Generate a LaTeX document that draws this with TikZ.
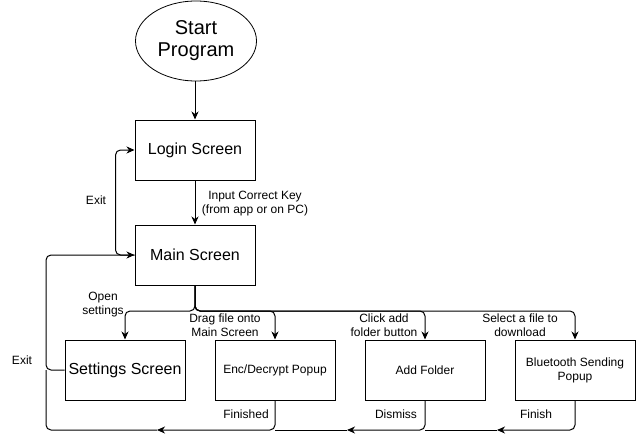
\documentclass[tikz,border=0pt]{standalone}
\usepackage{fontspec}
\setmainfont{Liberation Sans}
\usetikzlibrary{shapes.geometric,arrows.meta}

\begin{document}
\begin{tikzpicture}[x=1pt,y=-1pt,
  box/.style={draw,line width=1pt,minimum width=120pt,minimum height=60pt,inner sep=0pt,align=center},
  big/.style={font=\fontsize{16}{19}\selectfont},
  small/.style={font=\fontsize{12}{14}\selectfont},
  lbl/.style={font=\fontsize{12}{14}\selectfont,align=center,inner sep=0pt},
  flow/.style={line width=1pt,rounded corners=5pt,-{Stealth[length=8pt,width=7pt,inset=2.5pt]}},
  plain/.style={line width=1pt,rounded corners=5pt}]
  \useasboundingbox (0,0) rectangle (636,439);

  \node[draw,ellipse,line width=0.8pt,minimum width=121pt,minimum height=80pt,inner sep=0pt,
    align=center,font=\fontsize{20}{22}\selectfont] (start) at (196,41) {Start\\Program};
  \node[box,big] (login) at (195,150) {Login Screen};
  \node[box,big] (main) at (195,255) {Main Screen};
  \node[box,big] (settings) at (125,370) {Settings Screen};
  \node[box,small] (enc) at (275,370) {Enc/Decrypt Popup};
  \node[box,small] (folder) at (425,370) {Add Folder};
  \node[box,small] (bt) at (575,370) {Bluetooth Sending\\Popup};

  \coordinate (fork) at (195,311);
  \coordinate (ret) at (46,430);

  \draw[flow] (start.south -| login.north) -- (login);
  \draw[flow] (login) -- (main);
  \draw[flow] (main.west) -- ++(-19,0) |- (login.west);
  \draw[flow] (settings.west) -| (ret |- main.west) -- (main.west);

  \foreach \n in {settings,enc,folder,bt}
    \draw[flow] (main.south) -- (fork) -| (\n.north);

  % return lines along the bottom
  \draw[flow] (enc.south) |- (157,430);
  \draw[plain] (157,430) -- (ret) -- (ret |- settings.west);
  \draw[flow] (folder.south) |- (347,430);
  \draw[plain] (347,430) -- (enc.south |- ret);
  \draw[flow] (bt.south) |- (497,430);
  \draw[plain] (497,430) -- (folder.south |- ret);

  \node[lbl] (exitlogin) at (96,200) {Exit};
  \node[lbl] (exitsettings) at (22,360) {Exit};
  \node[lbl] (keylbl) at (255,204) {Input Correct Key\\(from app or on PC)};
  \node[lbl] (openlbl) at (103,305) {Open\\settings};
  \node[lbl] (draglbl) at (225,325) {Drag file onto\\Main Screen};
  \node[lbl] (clicklbl) at (384,325) {Click add\\folder button};
  \node[lbl] (selectlbl) at (520,325) {Select a file to\\download};
  \node[lbl] (finishedlbl) at (246,414) {Finished};
  \node[lbl] (dismisslbl) at (396,414) {Dismiss};
  \node[lbl] (finishlbl) at (536,414) {Finish};
\end{tikzpicture}
\end{document}
